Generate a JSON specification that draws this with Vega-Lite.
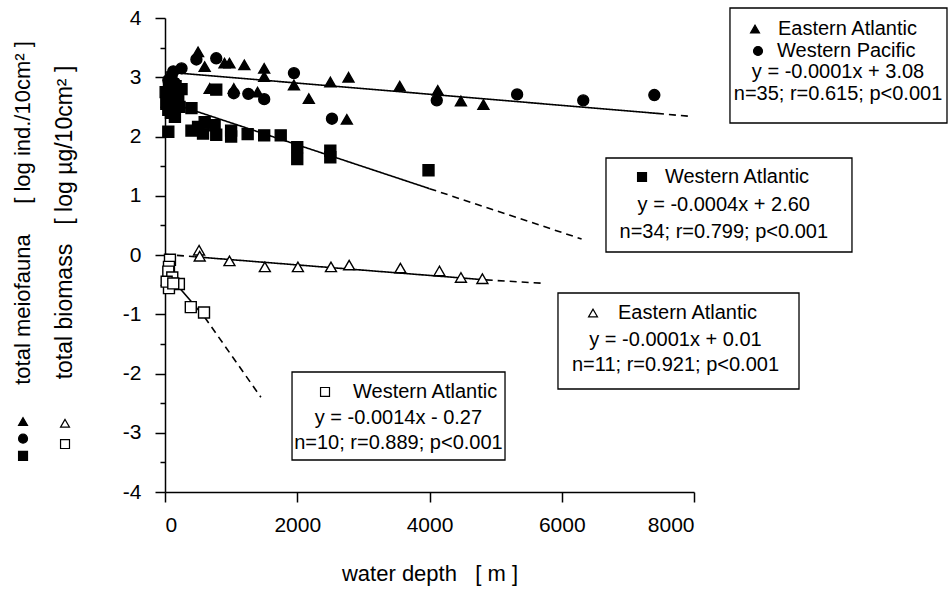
{
  "$schema": "https://vega.github.io/schema/vega-lite/v6.json",
  "width": 529,
  "height": 474,
  "autosize": {"type": "none"},
  "padding": {"left": 165, "top": 18, "right": 257, "bottom": 105},
  "background": "white",
  "config": {
    "view": {"stroke": null},
    "font": "Liberation Sans",
    "text": {"font": "Liberation Sans", "color": "black"}
  },
  "datasets": {
    "pts": [
      {"g": "EA", "x": 500, "y": 3.43}, {"g": "EA", "x": 600, "y": 3.18}, {"g": "EA", "x": 900, "y": 3.24},
      {"g": "EA", "x": 975, "y": 3.24}, {"g": "EA", "x": 1200, "y": 3.21}, {"g": "EA", "x": 1500, "y": 3.15},
      {"g": "EA", "x": 1500, "y": 3.01}, {"g": "EA", "x": 1950, "y": 2.87}, {"g": "EA", "x": 2500, "y": 2.92},
      {"g": "EA", "x": 2775, "y": 3.0}, {"g": "EA", "x": 3550, "y": 2.85}, {"g": "EA", "x": 675, "y": 2.81},
      {"g": "EA", "x": 1400, "y": 2.75}, {"g": "EA", "x": 2175, "y": 2.64}, {"g": "EA", "x": 2750, "y": 2.29},
      {"g": "EA", "x": 4125, "y": 2.78}, {"g": "EA", "x": 4475, "y": 2.6}, {"g": "EA", "x": 4815, "y": 2.54},
      {"g": "EA", "x": 1040, "y": 2.81},
      {"g": "WP", "x": 475, "y": 3.3}, {"g": "WP", "x": 775, "y": 3.32}, {"g": "WP", "x": 1950, "y": 3.07},
      {"g": "WP", "x": 1040, "y": 2.73}, {"g": "WP", "x": 1260, "y": 2.72}, {"g": "WP", "x": 1500, "y": 2.63},
      {"g": "WP", "x": 2525, "y": 2.3}, {"g": "WP", "x": 4110, "y": 2.61}, {"g": "WP", "x": 5325, "y": 2.71},
      {"g": "WP", "x": 6325, "y": 2.61}, {"g": "WP", "x": 7400, "y": 2.7}, {"g": "WP", "x": 50, "y": 2.95},
      {"g": "WP", "x": 125, "y": 3.1}, {"g": "WP", "x": 250, "y": 3.15}, {"g": "WP", "x": 150, "y": 2.9},
      {"g": "WP", "x": 100, "y": 3.02},
      {"g": "WA", "x": 50, "y": 2.08}, {"g": "WA", "x": 400, "y": 2.48}, {"g": "WA", "x": 400, "y": 2.1},
      {"g": "WA", "x": 500, "y": 2.16}, {"g": "WA", "x": 600, "y": 2.24}, {"g": "WA", "x": 575, "y": 2.05},
      {"g": "WA", "x": 750, "y": 2.19}, {"g": "WA", "x": 775, "y": 2.03}, {"g": "WA", "x": 1000, "y": 2.1},
      {"g": "WA", "x": 1000, "y": 2.0}, {"g": "WA", "x": 1250, "y": 2.04}, {"g": "WA", "x": 1500, "y": 2.02},
      {"g": "WA", "x": 1750, "y": 2.02}, {"g": "WA", "x": 2000, "y": 1.82}, {"g": "WA", "x": 2000, "y": 1.62},
      {"g": "WA", "x": 2500, "y": 1.76}, {"g": "WA", "x": 2500, "y": 1.65}, {"g": "WA", "x": 775, "y": 2.79},
      {"g": "WA", "x": 3985, "y": 1.43}, {"g": "WA", "x": 75, "y": 2.7}, {"g": "WA", "x": 200, "y": 2.61},
      {"g": "WA", "x": 100, "y": 2.5}, {"g": "WA", "x": 150, "y": 2.33}, {"g": "WA", "x": 30, "y": 2.6},
      {"g": "WA", "x": 60, "y": 2.8}, {"g": "WA", "x": 120, "y": 2.88}, {"g": "WA", "x": 180, "y": 2.75},
      {"g": "WA", "x": 90, "y": 2.4}, {"g": "WA", "x": 20, "y": 2.55}, {"g": "WA", "x": 130, "y": 2.65},
      {"g": "WA", "x": 50, "y": 2.45}, {"g": "WA", "x": 160, "y": 2.85}, {"g": "WA", "x": 220, "y": 2.5},
      {"g": "WA", "x": 10, "y": 2.75}, {"g": "WA", "x": 250, "y": 2.8},
      {"g": "EAb", "x": 515, "y": 0.08}, {"g": "EAb", "x": 525, "y": -0.02}, {"g": "EAb", "x": 975, "y": -0.1},
      {"g": "EAb", "x": 1510, "y": -0.2}, {"g": "EAb", "x": 2010, "y": -0.2}, {"g": "EAb", "x": 2510, "y": -0.2},
      {"g": "EAb", "x": 2785, "y": -0.17}, {"g": "EAb", "x": 3560, "y": -0.22}, {"g": "EAb", "x": 4150, "y": -0.27},
      {"g": "EAb", "x": 4475, "y": -0.38}, {"g": "EAb", "x": 4800, "y": -0.4},
      {"g": "WAb", "x": 75, "y": -0.08}, {"g": "WAb", "x": 60, "y": -0.2}, {"g": "WAb", "x": 50, "y": -0.28},
      {"g": "WAb", "x": 110, "y": -0.38}, {"g": "WAb", "x": 210, "y": -0.49}, {"g": "WAb", "x": 60, "y": -0.56},
      {"g": "WAb", "x": 25, "y": -0.45}, {"g": "WAb", "x": 390, "y": -0.88}, {"g": "WAb", "x": 590, "y": -0.97},
      {"g": "WAb", "x": 125, "y": -0.48}
    ],
    "fits": [
      {"seg": "A1", "part": "fitted", "x": 0, "y": 3.09}, {"seg": "A1", "part": "fitted", "x": 7440, "y": 2.39},
      {"seg": "A2", "part": "extrapolated", "x": 7440, "y": 2.39}, {"seg": "A2", "part": "extrapolated", "x": 7940, "y": 2.34},
      {"seg": "B1", "part": "fitted", "x": 0, "y": 2.6}, {"seg": "B1", "part": "fitted", "x": 4000, "y": 1.12},
      {"seg": "B2", "part": "extrapolated", "x": 4000, "y": 1.12}, {"seg": "B2", "part": "extrapolated", "x": 6300, "y": 0.27},
      {"seg": "C0", "part": "extrapolated", "x": 0, "y": 0.01}, {"seg": "C0", "part": "extrapolated", "x": 450, "y": -0.03},
      {"seg": "C1", "part": "fitted", "x": 450, "y": -0.03}, {"seg": "C1", "part": "fitted", "x": 4850, "y": -0.42},
      {"seg": "C2", "part": "extrapolated", "x": 4850, "y": -0.42}, {"seg": "C2", "part": "extrapolated", "x": 5750, "y": -0.48},
      {"seg": "D1", "part": "fitted", "x": 0, "y": -0.27}, {"seg": "D1", "part": "fitted", "x": 600, "y": -1.05},
      {"seg": "D2", "part": "extrapolated", "x": 600, "y": -1.05}, {"seg": "D2", "part": "extrapolated", "x": 1450, "y": -2.4}
    ],
    "boxes": [
      {"x": 8544, "x2": 11826, "y": 4.169, "y2": 2.228},
      {"x": 6669, "x2": 10389, "y": 1.637, "y2": 0.051},
      {"x": 5943, "x2": 9588, "y": -0.641, "y2": -2.262},
      {"x": 1921, "x2": 5142, "y": -1.975, "y2": -3.46}
    ],
    "names": [
      {"x": 9270, "y": 3.814, "text": "Eastern Atlantic"},
      {"x": 9255, "y": 3.443, "text": "Western Pacific"},
      {"x": 7561, "y": 1.316, "text": "Western Atlantic"},
      {"x": 6851, "y": -0.979, "text": "Eastern Atlantic"},
      {"x": 2843, "y": -2.312, "text": "Western Atlantic"}
    ],
    "stats": [
      {"x": 10178, "y": 3.089, "text": "y = -0.0001x + 3.08"},
      {"x": 10178, "y": 2.717, "text": "n=35; r=0.615; p<0.001"},
      {"x": 8450, "y": 0.844, "text": "y = -0.0004x + 2.60"},
      {"x": 8450, "y": 0.388, "text": "n=34; r=0.799; p<0.001"},
      {"x": 7720, "y": -1.435, "text": "y = -0.0001x + 0.01"},
      {"x": 7720, "y": -1.857, "text": "n=11; r=0.921; p<0.001"},
      {"x": 3530, "y": -2.751, "text": "y = -0.0014x - 0.27"},
      {"x": 3530, "y": -3.173, "text": "n=10; r=0.889; p<0.001"}
    ],
    "keys": [
      {"g": "EA", "x": 8923, "y": 3.814}, {"g": "WP", "x": 8968, "y": 3.443},
      {"g": "WA", "x": 7214, "y": 1.316}, {"g": "EAb", "x": 6473, "y": -0.979},
      {"g": "WAb", "x": 2420, "y": -2.312},
      {"g": "EA", "x": -2147, "y": -2.81}, {"g": "WP", "x": -2147, "y": -3.1},
      {"g": "WA", "x": -2147, "y": -3.39}, {"g": "EAb", "x": -1512, "y": -2.84},
      {"g": "WAb", "x": -1512, "y": -3.19}
    ],
    "ytitles": [
      {"x": -2147, "y": 0.709, "size": "a", "text": "total meiofauna\u00a0\u00a0\u00a0\u00a0\u00a0[ log ind./10cm² ]"},
      {"x": -1512, "y": 0.548, "size": "b", "text": "total biomass\u00a0\u00a0\u00a0[ log µg/10cm² ]"}
    ]
  },
  "encoding": {
    "x": {
      "field": "x", "type": "quantitative",
      "scale": {"domain": [0, 8000], "nice": false, "zero": false},
      "axis": {
        "title": "water depth\u00a0\u00a0\u00a0[ m ]",
        "values": [0, 2000, 4000, 6000, 8000],
        "labelExpr": "'' + datum.value",
        "grid": false, "domainColor": "black", "domainWidth": 1.5,
        "tickColor": "black", "tickWidth": 1.5, "tickSize": 10,
        "labelColor": "black", "labelFont": "Liberation Sans", "labelFontSize": 21,
        "labelPadding": 12, "labelOverlap": false,
        "titleColor": "black", "titleFont": "Liberation Sans", "titleFontSize": 22,
        "titleFontWeight": "normal", "titlePadding": 28
      }
    },
    "y": {
      "field": "y", "type": "quantitative",
      "scale": {"domain": [-4, 4], "nice": false, "zero": false},
      "axis": {
        "title": null,
        "values": [-4, -3.5, -3, -2.5, -2, -1.5, -1, -0.5, 0, 0.5, 1, 1.5, 2, 2.5, 3, 3.5, 4],
        "labelExpr": "datum.value % 1 == 0 ? '' + datum.value : ''",
        "grid": false, "domainColor": "black", "domainWidth": 1.5,
        "tickColor": "black", "tickWidth": 1.5,
        "tickSize": {"condition": {"test": "datum.value % 1 != 0", "value": 5}, "value": 10},
        "labelColor": "black", "labelFont": "Liberation Sans", "labelFontSize": 21,
        "labelPadding": 14, "labelOverlap": false
      }
    }
  },
  "layer": [
    {
      "data": {"name": "fits"},
      "mark": {"type": "line", "color": "black", "strokeWidth": 1.6},
      "encoding": {
        "detail": {"field": "seg"},
        "strokeDash": {"field": "part", "type": "nominal", "legend": null,
          "scale": {"domain": ["fitted", "extrapolated"], "range": [[1, 0], [7, 5]]}}
      }
    },
    {
      "data": {"name": "pts"},
      "mark": {"type": "point", "filled": false, "stroke": "black", "strokeWidth": 1.4, "opacity": 1, "size": 120},
      "encoding": {
        "shape": {"field": "g", "type": "nominal", "legend": null,
          "scale": {"domain": ["EA", "WP", "WA", "EAb", "WAb"], "range": ["triangle-up", "circle", "square", "triangle-up", "square"]}},
        "fill": {"field": "g", "type": "nominal", "legend": null,
          "scale": {"domain": ["EA", "WP", "WA", "EAb", "WAb"], "range": ["black", "black", "black", "white", "white"]}}
      }
    },
    {
      "data": {"name": "boxes"},
      "mark": {"type": "rect", "fill": "white", "stroke": "black", "strokeWidth": 1.3},
      "encoding": {"x2": {"field": "x2"}, "y2": {"field": "y2"}}
    },
    {
      "data": {"name": "names"},
      "mark": {"type": "text", "align": "left", "baseline": "middle", "fontSize": 20, "color": "black"},
      "encoding": {"text": {"field": "text"}}
    },
    {
      "data": {"name": "stats"},
      "mark": {"type": "text", "align": "center", "baseline": "middle", "fontSize": 20, "color": "black"},
      "encoding": {"text": {"field": "text"}}
    },
    {
      "data": {"name": "keys"},
      "mark": {"type": "point", "filled": false, "stroke": "black", "strokeWidth": 1.2, "opacity": 1, "size": 80},
      "encoding": {
        "shape": {"field": "g", "type": "nominal", "legend": null},
        "fill": {"field": "g", "type": "nominal", "legend": null}
      }
    },
    {
      "data": {"name": "ytitles"},
      "mark": {"type": "text", "angle": 270, "align": "center", "baseline": "middle", "color": "black"},
      "encoding": {
        "text": {"field": "text"},
        "size": {"field": "size", "type": "nominal", "legend": null,
          "scale": {"domain": ["a", "b"], "range": [22, 23]}}
      }
    }
  ]
}
